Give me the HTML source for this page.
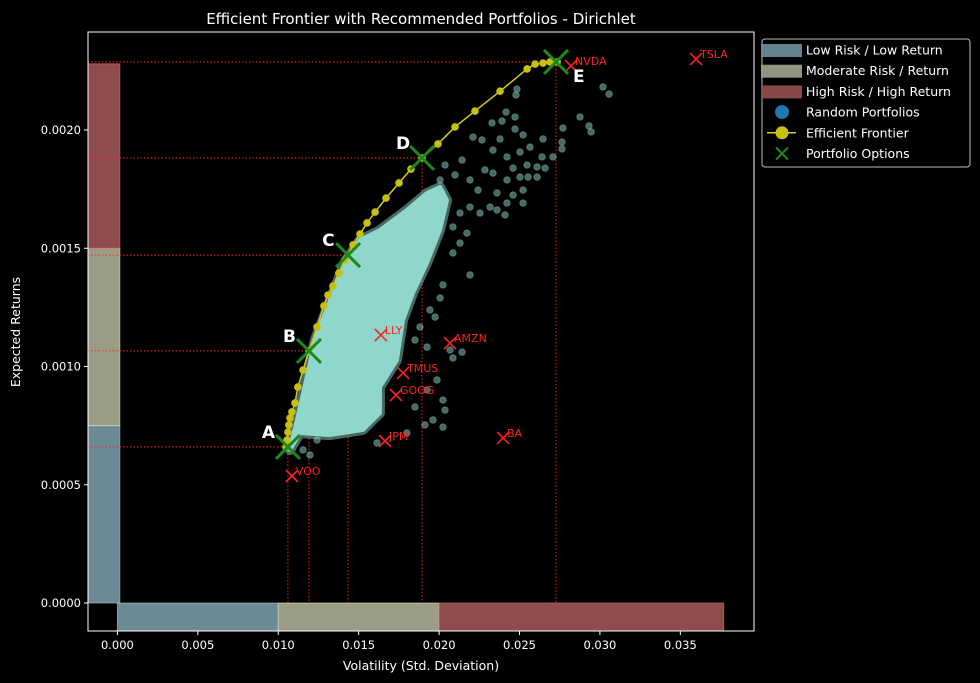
<!DOCTYPE html>
<html><head><meta charset="utf-8"><style>
html,body{margin:0;padding:0;background:#000;}
svg{display:block;font-family:"DejaVu Sans","Liberation Sans",sans-serif;}
</style></head><body>
<svg id="chart" width="980" height="683" xmlns="http://www.w3.org/2000/svg"></svg>
<script>
const frontierVol=[0.01048,0.01054,0.01060,0.01066,0.01073,0.01085,0.01104,0.01122,0.01154,0.01191,0.01241,0.01284,0.01309,0.01340,0.01377,0.01415,0.01465,0.01508,0.01552,0.01602,0.01670,0.01751,0.01825,0.01894,0.01993,0.02099,0.02223,0.02379,0.02547,0.02597,0.02646,0.02690,0.02734];
const frontierRet=[0.000660,0.000689,0.000723,0.000753,0.000782,0.000808,0.000846,0.000913,0.000985,0.001066,0.001167,0.001256,0.001302,0.001340,0.001395,0.001450,0.001514,0.001560,0.001607,0.001653,0.001712,0.001776,0.001835,0.001882,0.001941,0.002013,0.002080,0.002164,0.002258,0.002279,0.002283,0.002288,0.002288];
const cloudVol=[0.01073,0.01116,0.01166,0.01228,0.01322,0.01415,0.01508,0.01632,0.01800,0.01925,0.02006,0.02049,0.02006,0.01925,0.01838,0.01776,0.01738,0.01632,0.01632,0.01527,0.01322,0.01135,0.01073];
const cloudRet=[0.000655,0.000774,0.000922,0.001112,0.001281,0.001442,0.001535,0.001577,0.001662,0.001734,0.001759,0.001704,0.001577,0.001438,0.001311,0.001197,0.001027,0.000913,0.000803,0.000732,0.000710,0.000719,0.000647];
const randVol=[0.03019,0.03057,0.02484,0.02478,0.02876,0.02932,0.02945,0.02770,0.02764,0.02764,0.02416,0.02472,0.02329,0.02391,0.02472,0.02522,0.02646,0.02379,0.02267,0.02211,0.02503,0.02565,0.02640,0.02708,0.02335,0.02422,0.02460,0.02547,0.02609,0.02659,0.02335,0.02422,0.02503,0.02553,0.02609,0.02522,0.02460,0.02360,0.02422,0.02522,0.02317,0.02254,0.02360,0.02410,0.02192,0.02130,0.02086,0.02173,0.02130,0.02192,0.02086,0.02024,0.02006,0.01975,0.01943,0.01925,0.02068,0.02143,0.02086,0.01987,0.02024,0.02037,0.02024,0.01962,0.01912,0.01800,0.01614,0.01241,0.01154,0.01197,0.01925,0.01850,0.01881,0.01850,0.02099,0.02192,0.02285,0.02143,0.02037,0.02006,0.02242];
const randRet=[0.002182,0.002152,0.002173,0.002148,0.002055,0.002017,0.001992,0.002008,0.001949,0.001920,0.002076,0.002055,0.002030,0.002038,0.002004,0.001979,0.001962,0.001962,0.001958,0.001970,0.001907,0.001928,0.001886,0.001886,0.001915,0.001886,0.001839,0.001852,0.001844,0.001839,0.001818,0.001789,0.001801,0.001801,0.001801,0.001746,0.001725,0.001734,0.001691,0.001691,0.001674,0.001649,0.001662,0.001641,0.001674,0.001649,0.001590,0.001564,0.001522,0.001387,0.001480,0.001345,0.001290,0.001209,0.001239,0.001082,0.001070,0.001061,0.001036,0.000943,0.000858,0.000816,0.000744,0.000774,0.000753,0.000719,0.000677,0.000689,0.000647,0.000626,0.000901,0.001112,0.001167,0.000829,0.001810,0.001789,0.001831,0.001873,0.001852,0.001789,0.001746];
const assetNames=["VOO","LLY","AMZN","TMUS","GOOG","JPM","BA","NVDA","TSLA"];
const assetVol=[0.01085,0.01638,0.02068,0.01776,0.01732,0.01664,0.02398,0.02820,0.03598];
const assetRet=[0.000537,0.001133,0.001099,0.000973,0.000879,0.000685,0.000698,0.002271,0.002300];
const optNames=["A","B","C","D","E"];
const optVol=[0.01060,0.01191,0.01434,0.01894,0.02727];
const optRet=[0.000660,0.001066,0.001471,0.001882,0.002288];
const xTicks=[0,0.005,0.010,0.015,0.020,0.025,0.030,0.035];
const xTickLabels=["0.000","0.005","0.010","0.015","0.020","0.025","0.030","0.035"];
const yTicks=[0,0.0005,0.0010,0.0015,0.0020];
const yTickLabels=["0.0000","0.0005","0.0010","0.0015","0.0020"];
const yBandEdges=[0,0.00075,0.0015,0.00228];
const xBandEdges=[0,0.010,0.020,0.0377];
const bandColors=["#6a8a94","#9a9c86","#8e4c4e"];
const bandStroke=["#a9d0dc","#e8e8c8","#e07070"];

const L=88,R=754,T=32,B=631;
const xmin=-0.00183,xmax=0.03958;
const X=v=>L+(v-xmin)/(xmax-xmin)*(R-L);
const Y=v=>603-v*236500;
const svg=document.getElementById('chart');
const NS="http://www.w3.org/2000/svg";
function mk(tag,attrs,parent){const e=document.createElementNS(NS,tag);for(const k in attrs)e.setAttribute(k,attrs[k]);(parent||svg).appendChild(e);return e;}

const title=mk('text',{x:421,y:24,'text-anchor':'middle',fill:'#fff','font-size':15});
title.textContent="Efficient Frontier with Recommended Portfolios - Dirichlet";



for(let i=0;i<3;i++){
 const r=mk('rect',{x:L,y:Y(yBandEdges[i+1]),width:X(0.00015)-L,height:Y(yBandEdges[i])-Y(yBandEdges[i+1]),fill:bandColors[i],stroke:bandStroke[i],'stroke-opacity':0.6});
 
 
 const h=mk('rect',{x:X(xBandEdges[i]),y:Y(0),width:X(xBandEdges[i+1])-X(xBandEdges[i]),height:B-Y(0),fill:bandColors[i],stroke:bandStroke[i],'stroke-opacity':0.6});
 
 
}

for(let i=0;i<optVol.length;i++){
 const g=mk('path',{d:`M${L} ${Y(optRet[i])}H${X(optVol[i])}M${X(optVol[i])} ${Y(optRet[i])}V${Y(0)}`,stroke:'#ff2020','stroke-width':1,'stroke-dasharray':'1.5,2',fill:'none'});
 
 
}

const cp=cloudVol.map((v,i)=>X(v)+','+Y(cloudRet[i])).join(' ');
const halo=mk('polygon',{points:cp,fill:'none',stroke:'#8dd3c7','stroke-width':10,'stroke-linejoin':'round','stroke-opacity':0.5});


const cl=mk('polygon',{points:cp,fill:'#8fd6cc',stroke:'#8fd6cc','stroke-width':4,'stroke-linejoin':'round'});


for(let i=0;i<randVol.length;i++){
 const c=mk('circle',{cx:X(randVol[i]),cy:Y(randRet[i]),r:3.3,fill:'#8dd3c7','fill-opacity':0.5,stroke:'#8dd3c7','stroke-opacity':0.35});
 
 
}

const fp=frontierVol.map((v,i)=>X(v)+','+Y(frontierRet[i])).join(' ');
const fl=mk('polyline',{points:fp,fill:'none',stroke:'#d4cc1a','stroke-width':1.5});


for(let i=0;i<frontierVol.length;i++){
 const c=mk('circle',{cx:X(frontierVol[i]),cy:Y(frontierRet[i]),r:3.8,fill:'#c8c010'});
 
 
}

for(let i=0;i<assetNames.length;i++){
 const x=X(assetVol[i]),y=Y(assetRet[i]);
 const m=mk('path',{d:`M${x-6} ${y-6}L${x+6} ${y+6}M${x-6} ${y+6}L${x+6} ${y-6}`,stroke:'#ff2020','stroke-width':1.6});
 
 
 const t=mk('text',{x:x+4,y:y-1,fill:'#ff2020','font-size':11});
 t.textContent=assetNames[i];
 
 
}

for(let i=0;i<optNames.length;i++){
 const x=X(optVol[i]),y=Y(optRet[i]);
 const m=mk('path',{d:`M${x-12} ${y-12}L${x+12} ${y+12}M${x-12} ${y+12}L${x+12} ${y-12}`,stroke:'#1a8a1a','stroke-width':3});
 
 
 const last=i===optNames.length-1;
 const t=mk('text',{x:last?x+17:x-26,y:last?y+20:y-9,fill:'#fff','font-size':17,'font-weight':'bold'});
 t.textContent=optNames[i];
 
 
}

const fr=mk('rect',{x:L,y:T,width:R-L,height:B-T,fill:'none',stroke:'#fff','stroke-width':1});


for(let i=0;i<xTicks.length;i++){
 const x=X(xTicks[i]);
 mk('line',{x1:x,x2:x,y1:B,y2:B+4,stroke:'#fff'});
 const t=mk('text',{x:x,y:B+18,'text-anchor':'middle',fill:'#fff','font-size':11.5});
 t.textContent=xTickLabels[i];
 
 
}
for(let i=0;i<yTicks.length;i++){
 const y=Y(yTicks[i]);
 mk('line',{x1:L-4,x2:L,y1:y,y2:y,stroke:'#fff'});
 const t=mk('text',{x:L-7,y:y+4,'text-anchor':'end',fill:'#fff','font-size':11.5});
 t.textContent=yTickLabels[i];
 
 
}
const xl=mk('text',{x:421,y:670,'text-anchor':'middle',fill:'#fff','font-size':12.5});
xl.textContent="Volatility (Std. Deviation)";


const yl=mk('text',{x:20,y:332,'text-anchor':'middle',fill:'#fff','font-size':12.5,transform:'rotate(-90 20 332)'});
yl.textContent="Expected Returns";



const lg=mk('g',{});


mk('rect',{x:762,y:39,width:208,height:128,rx:3,fill:'#000',stroke:'#bbb','stroke-width':1},lg);
const labels=["Low Risk / Low Return","Moderate Risk / Return","High Risk / High Return","Random Portfolios","Efficient Frontier","Portfolio Options"];
for(let i=0;i<6;i++){
 const y=50+i*20.7;
 if(i<3) mk('rect',{x:761,y:y-6,width:41,height:13,fill:bandColors[i],opacity:0.95},lg);
 else if(i===3) mk('circle',{cx:782,cy:y,r:7,fill:'#1f77b4'},lg);
 else if(i===4){mk('line',{x1:767,x2:796,y1:y,y2:y,stroke:'#d4cc1a','stroke-width':1.5},lg);mk('circle',{cx:782,cy:y,r:6.5,fill:'#c8c010'},lg);}
 else mk('path',{d:`M776 ${y-6}L788 ${y+6}M776 ${y+6}L788 ${y-6}`,stroke:'#1a8a1a','stroke-width':2},lg);
 const t=mk('text',{x:806,y:y+4.5,fill:'#fff','font-size':12.5},lg);
 t.textContent=labels[i];
 
 
}
</script>
</body></html>
